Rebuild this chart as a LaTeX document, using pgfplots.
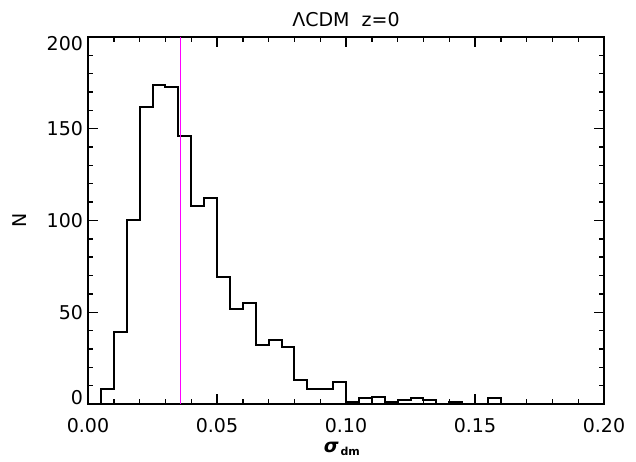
\documentclass[border=0pt]{standalone}
\usepackage{pgfplots}
\pgfplotsset{compat=1.18}
\usepackage{fontspec}
\setmainfont{DejaVu Sans}
\definecolor{mag}{RGB}{255,0,255}
\begin{document}
\begin{tikzpicture}
\useasboundingbox (-88pt,-58pt) rectangle (548pt,404pt);
\begin{axis}[
  at={(0pt,0pt)}, anchor=south west,
  scale only axis,
  width=516pt, height=367pt,
  xmin=0, xmax=0.2, ymin=0, ymax=200,
  xtick={0,0.05,0.1,0.15,0.2},
  ytick={0,50,100,150,200},
  minor x tick num=4, minor y tick num=4,
  tick align=inside,
  major tick length=10pt, minor tick length=5pt,
  axis line style={line width=1.8pt},
  every tick/.style={black, line width=1.4pt},
  scaled x ticks=false,
  xticklabel style={/pgf/number format/fixed, /pgf/number format/fixed zerofill, /pgf/number format/precision=2, anchor=base, yshift=-29pt},
  /pgf/number format/assume math mode=true,
  tick label style={font=\fontsize{19}{23}\selectfont},
  yticklabel={\ifnum\ticknum=0 \raisebox{6.5pt}[\height][\depth]{\pgfmathprintnumber{\tick}}\else\ifnum\ticknum=4 \raisebox{-7pt}[\height][\depth]{\pgfmathprintnumber{\tick}}\else\pgfmathprintnumber{\tick}\fi\fi},
  yticklabel style={anchor=east, xshift=-1.5pt},
  xtick pos=both, ytick pos=both,
  title={\fontsize{19}{23}\selectfont ΛCDM\ \ z=0},
  title style={at={(axis description cs:0.5,1.012)}, anchor=base},
  xlabel={{\fontsize{19}{23}\selectfont\bfseries\itshape σ}\hspace{2pt}\raisebox{-3pt}{\fontsize{11}{13}\selectfont\bfseries dm}},
  ylabel={N},
  every axis x label/.style={at={(axis description cs:0.492,-0.1335)}, anchor=base},
  every axis y label/.style={at={(axis description cs:-0.1318,0.5)}, rotate=90, anchor=center, font=\fontsize{19}{23}\selectfont},
]
\addplot[const plot, black, line width=2pt] coordinates {
(0.005,0) (0.005,8) (0.01,39) (0.015,100) (0.02,162) (0.025,174) (0.03,173)
(0.035,146) (0.04,108) (0.045,112) (0.05,69) (0.055,52) (0.06,55) (0.065,32)
(0.07,35) (0.075,31) (0.08,13) (0.085,8) (0.09,8) (0.095,12) (0.1,1)
(0.105,3) (0.11,4) (0.115,1) (0.12,2) (0.125,3) (0.13,2) (0.135,0)
(0.14,1) (0.145,0) (0.15,0) (0.155,3) (0.16,0) (0.2,0)
};
\addplot[mag, line width=1pt] coordinates {(0.0357,0) (0.0357,200)};
\end{axis}
\end{tikzpicture}
\end{document}
